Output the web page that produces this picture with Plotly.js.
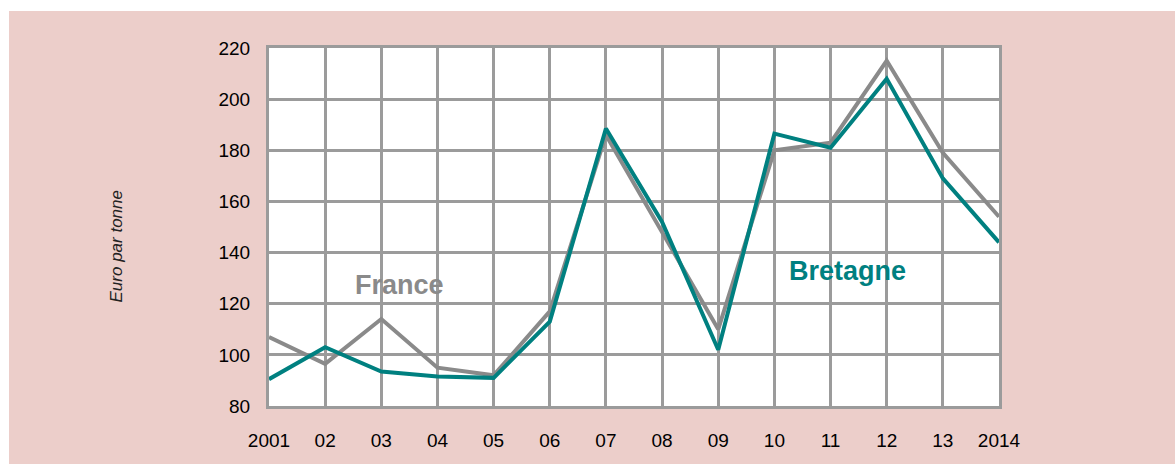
<!DOCTYPE html>
<html>
<head>
<meta charset="utf-8">
<script src="https://cdn.plot.ly/plotly-3.0.1.min.js"></script>
<style>
  html, body { margin: 0; padding: 0; background: #ffffff; width: 1175px; height: 464px; overflow: hidden; }
  #chart { position: absolute; left: 9px; top: 11px; width: 1166px; height: 453px; }
</style>
</head>
<body>
<div id="chart"></div>
<script>
const years = [2001, 2002, 2003, 2004, 2005, 2006, 2007, 2008, 2009, 2010, 2011, 2012, 2013, 2014];
const tickLabels = ["2001", "02", "03", "04", "05", "06", "07", "08", "09", "10", "11", "12", "13", "2014"];
const france = [107, 96.5, 114, 95, 92, 117, 186, 148, 110, 180, 183, 215, 179, 154];
const bretagne = [90.5, 103, 93.5, 91.5, 91, 113, 188.5, 152, 102, 186.5, 181, 208, 169, 144];
const yTicks = [80, 100, 120, 140, 160, 180, 200, 220];

const gray = "#8a8a8a";
const teal = "#008080";
const grid = "#9b9b9b";
const fam = "Liberation Sans, Arial, sans-serif";

const traces = [
  { x: years, y: france, type: "scatter", mode: "lines", name: "France",
    line: { color: gray, width: 4 }, hoverinfo: "skip" },
  { x: years, y: bretagne, type: "scatter", mode: "lines", name: "Bretagne",
    line: { color: teal, width: 4 }, hoverinfo: "skip" }
];

const layout = {
  width: 1166, height: 453,
  margin: { l: 260, r: 176, t: 37, b: 58 },
  paper_bgcolor: "#ecceca",
  plot_bgcolor: "#ffffff",
  showlegend: false,
  font: { family: fam, color: "#000000", size: 19 },
  xaxis: {
    range: [2001, 2014], tickvals: years, ticktext: tickLabels,
    showgrid: true, gridcolor: grid, gridwidth: 3,
    showline: true, linecolor: grid, linewidth: 3, mirror: true,
    zeroline: false, ticks: "outside", ticklen: 15, tickcolor: "rgba(0,0,0,0)",
    tickfont: { size: 19 }
  },
  yaxis: {
    range: [80, 220], tickvals: yTicks,
    showgrid: true, gridcolor: grid, gridwidth: 3,
    showline: true, linecolor: grid, linewidth: 3, mirror: true,
    zeroline: false, ticks: "outside", ticklen: 12, tickcolor: "rgba(0,0,0,0)",
    tickfont: { size: 19 }
  },
  annotations: [
    { text: "France", x: 2003.33, y: 127.3, xref: "x", yref: "y", showarrow: false,
      font: { size: 27, color: gray, family: fam, weight: "bold" } },
    { text: "Bretagne", x: 2011.31, y: 132.8, xref: "x", yref: "y", showarrow: false,
      font: { size: 27, color: teal, family: fam, weight: "bold" } },
    { text: "<i>Euro par tonne</i>", xref: "paper", yref: "paper", x: 0, y: 0.5,
      xshift: -165, yshift: -20, textangle: -90, showarrow: false,
      font: { size: 17, color: "#222222" } }
  ]
};

Plotly.newPlot("chart", traces, layout, { staticPlot: true, displayModeBar: false });
</script>
</body>
</html>
